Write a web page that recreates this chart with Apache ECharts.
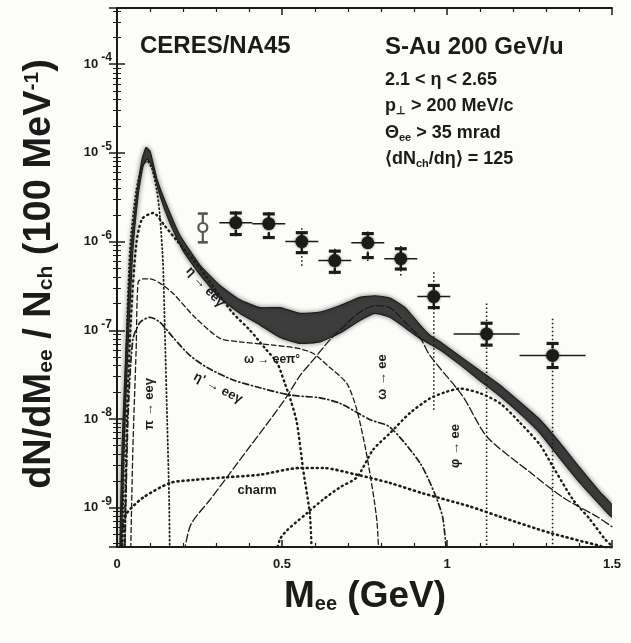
<!DOCTYPE html>
<html>
<head>
<meta charset="utf-8">
<script src="https://cdn.jsdelivr.net/npm/echarts@6/dist/echarts.min.js"></script>
<style>
  html, body { margin: 0; padding: 0; background: #fcfcf8; }
  #chart { width: 631px; height: 643px; }
</style>
</head>
<body>
<div id="chart"></div>
<script>
// CERES/NA45 dielectron invariant-mass spectrum, S-Au at 200 GeV/u
// Yields are dN/dMee / Nch per 100 MeV, masses in GeV.

const massTicks = [0, 0.5, 1, 1.5];
const yieldRange = [3.6e-10, 4.3e-4];

// measured points
const pointMass      = [0.36, 0.46, 0.56, 0.66, 0.76, 0.86, 0.96, 1.12, 1.32];
const pointHalfWidth = [0.05, 0.05, 0.05, 0.05, 0.05, 0.05, 0.05, 0.10, 0.10];
const pointYield     = [1.63e-6, 1.59e-6, 1.0e-6, 6.1e-7, 9.7e-7, 6.4e-7, 2.4e-7, 9.1e-8, 5.2e-8];
const statHigh       = [2.2e-6, 2.15e-6, 1.41e-6, 8.3e-7, 1.3e-6, 8.9e-7, 4.5e-7, 2.0e-7, 1.35e-7];
const statLow        = [1.15e-6, 1.05e-6, 5.0e-7, 4.2e-7, 6.0e-7, 4.0e-7, 1.26e-8, 1e-10, 1e-10];
const sysHigh        = [2.1e-6, 2.05e-6, 1.26e-6, 7.8e-7, 1.23e-6, 8.3e-7, 3.2e-7, 1.2e-7, 7.1e-8];
const sysLow         = [1.2e-6, 1.11e-6, 7.5e-7, 4.5e-7, 6.6e-7, 4.9e-7, 1.8e-7, 6.8e-8, 3.8e-8];

// lowest-mass point (open marker)
const lowPointMass  = [0.26];
const lowPointYield = [1.44e-6];
const lowPointHigh  = [2.07e-6];
const lowPointLow   = [9.8e-7];

// total hadronic cocktail: upper and lower edge of the systematic band
const cocktailUpper = [
  [0.006, 1e-10], [0.015, 4.5e-9], [0.027, 6.0e-8], [0.042, 7.9e-7], [0.061, 3.7e-6],
  [0.076, 8.5e-6], [0.088, 1.15e-5], [0.100, 1.05e-5], [0.121, 5.1e-6], [0.152, 2.5e-6],
  [0.191, 1.17e-6], [0.252, 5.4e-7], [0.312, 3.2e-7], [0.373, 2.2e-7], [0.433, 1.8e-7],
  [0.494, 1.8e-7], [0.555, 1.55e-7], [0.615, 1.6e-7], [0.676, 1.9e-7], [0.736, 2.35e-7],
  [0.782, 2.45e-7], [0.827, 2.3e-7], [0.873, 1.8e-7], [0.918, 1.15e-7], [0.948, 8.8e-8],
  [0.979, 7.4e-8], [1.039, 5.1e-8], [1.100, 3.5e-8], [1.161, 2.4e-8], [1.221, 1.55e-8],
  [1.282, 9.8e-9], [1.342, 5.4e-9], [1.403, 2.8e-9], [1.464, 1.5e-9], [1.500, 1.07e-9]
];
const cocktailLower = [
  [0.009, 1e-10], [0.020, 3.5e-9], [0.032, 5.0e-8], [0.047, 7.0e-7], [0.064, 3.3e-6],
  [0.079, 7.1e-6], [0.091, 8.5e-6], [0.106, 7.1e-6], [0.130, 3.3e-6], [0.161, 1.6e-6],
  [0.200, 7.9e-7], [0.252, 4.2e-7], [0.312, 2.3e-7], [0.373, 1.55e-7], [0.433, 1.15e-7],
  [0.494, 8.3e-8], [0.555, 7.1e-8], [0.615, 7.4e-8], [0.676, 9.3e-8], [0.736, 1.29e-7],
  [0.782, 1.55e-7], [0.827, 1.4e-7], [0.873, 1.07e-7], [0.918, 8.1e-8], [0.979, 6.0e-8],
  [1.039, 4.1e-8], [1.100, 2.7e-8], [1.161, 1.8e-8], [1.221, 1.15e-8], [1.282, 6.9e-9],
  [1.342, 3.6e-9], [1.403, 1.9e-9], [1.464, 1.07e-9], [1.500, 7.8e-10]
];

// individual cocktail sources
const piDalitz = [
  [0.015, 1e-10], [0.024, 1.6e-8], [0.039, 7.9e-7], [0.058, 3.7e-6], [0.076, 7.1e-6],
  [0.091, 8.1e-6], [0.106, 6.6e-6], [0.121, 3.7e-6], [0.130, 1.95e-6], [0.139, 6.2e-7],
  [0.145, 1.0e-7], [0.152, 9.8e-9], [0.158, 1.2e-9], [0.161, 1e-10]
];
const etaDalitz = [
  [0.021, 1e-10], [0.030, 9.8e-9], [0.042, 1.3e-7], [0.058, 9.1e-7], [0.076, 1.8e-6],
  [0.110, 2.1e-6], [0.145, 1.5e-6], [0.182, 1.02e-6], [0.252, 5.0e-7], [0.303, 2.7e-7],
  [0.352, 1.55e-7], [0.403, 1.0e-7], [0.448, 6.3e-8], [0.485, 4.3e-8], [0.509, 2.5e-8],
  [0.527, 1.6e-8], [0.545, 9.1e-9], [0.564, 2.7e-9], [0.585, 7.9e-10], [0.594, 1e-10]
];
const omegaDalitz = [
  [0.039, 1e-10], [0.048, 4.5e-9], [0.058, 6.0e-8], [0.064, 3.5e-7], [0.079, 3.8e-7],
  [0.100, 3.8e-7], [0.130, 3.4e-7], [0.170, 2.6e-7], [0.236, 1.4e-7], [0.312, 8.1e-8],
  [0.373, 7.4e-8], [0.473, 6.8e-8], [0.545, 6.3e-8], [0.594, 5.5e-8], [0.645, 3.8e-8],
  [0.697, 2.5e-8], [0.727, 1.26e-8], [0.758, 3.7e-9], [0.788, 6.8e-10], [0.797, 1e-10]
];
const etaPrimeDalitz = [
  [0.021, 1e-10], [0.033, 9.8e-9], [0.048, 7.8e-8], [0.070, 1.23e-7], [0.100, 1.4e-7],
  [0.130, 1.23e-7], [0.170, 8.3e-8], [0.221, 5.2e-8], [0.273, 3.8e-8], [0.352, 2.75e-8],
  [0.433, 2.25e-8], [0.524, 1.86e-8], [0.615, 1.73e-8], [0.676, 1.5e-8], [0.767, 9.8e-9],
  [0.827, 8.1e-9], [0.918, 3.2e-9], [0.964, 1.4e-9], [0.988, 7.4e-10], [1.009, 1e-10]
];
const omegaDirect = [
  [0.182, 1e-10], [0.221, 6.1e-10], [0.282, 1.23e-9], [0.333, 2.2e-9], [0.403, 4.9e-9],
  [0.464, 9.8e-9], [0.515, 1.8e-8], [0.555, 3.1e-8], [0.594, 4.6e-8], [0.645, 7.8e-8],
  [0.697, 1.2e-7], [0.736, 1.6e-7], [0.782, 1.9e-7], [0.827, 1.8e-7], [0.873, 1.23e-7],
  [0.918, 8.3e-8], [0.948, 5.2e-8], [1.048, 1.8e-8], [1.121, 6.3e-9], [1.252, 2.5e-9],
  [1.352, 1.3e-9], [1.455, 7.9e-10], [1.500, 6.1e-10]
];
const phiDirect = [
  [0.464, 1e-10], [0.494, 4.4e-10], [0.576, 8.7e-10], [0.624, 1.23e-9], [0.676, 1.7e-9],
  [0.727, 2.2e-9], [0.776, 4.5e-9], [0.827, 6.9e-9], [0.888, 1.17e-8], [0.948, 1.7e-8],
  [0.994, 2.0e-8], [1.039, 2.2e-8], [1.100, 1.95e-8], [1.161, 1.5e-8], [1.221, 9.1e-9],
  [1.282, 5.1e-9], [1.321, 2.9e-9], [1.382, 1.23e-9], [1.433, 7.4e-10], [1.479, 4.4e-10],
  [1.500, 3.7e-10]
];
const charm = [
  [0.009, 1e-10], [0.018, 6.4e-10], [0.030, 8.7e-10], [0.079, 1.3e-9], [0.161, 1.9e-9],
  [0.230, 2.05e-9], [0.333, 2.2e-9], [0.433, 2.35e-9], [0.555, 2.8e-9], [0.624, 2.8e-9],
  [0.727, 2.35e-9], [0.827, 1.9e-9], [0.927, 1.45e-9], [1.070, 1.03e-9], [1.161, 7.9e-10],
  [1.312, 5.2e-10], [1.464, 3.7e-10], [1.500, 3.4e-10]
];

const FONT = '"Liberation Sans", Arial, Helvetica, sans-serif';
const INK = '#1b1b1b';

const chart = echarts.init(document.getElementById('chart'), null, { renderer: 'canvas' });

function curve(name, data, width, dash) {
  return {
    name, type: 'line', data, showSymbol: false, smooth: 0.25, clip: true, z: 3,
    lineStyle: { color: INK, width, type: dash, cap: 'round' },
    silent: true
  };
}

// systematic band of the summed cocktail
const bandSeries = {
  type: 'custom', clip: true, z: 2, silent: true,
  data: [[0.5, 1e-6]],
  renderItem: (params, api) => {
    const pts = cocktailUpper.map(p => api.coord(p))
      .concat(cocktailLower.slice().reverse().map(p => api.coord(p)));
    return {
      type: 'polygon',
      shape: { points: pts, smooth: 0.15 },
      style: { fill: '#3d3d3d', stroke: '#1e1e1e', lineWidth: 1.2,
               shadowBlur: 5, shadowColor: 'rgba(0,0,0,0.45)' }
    };
  }
};

// measured points with statistical (dotted) and systematic (bracket) errors
const pointSeries = {
  type: 'custom', clip: true, z: 5, silent: true,
  data: pointMass.map((m, i) => [m, pointYield[i], pointHalfWidth[i], statHigh[i], statLow[i], sysHigh[i], sysLow[i]]),
  renderItem: (params, api) => {
    const m = api.value(0), y = api.value(1), hw = api.value(2);
    const c = api.coord([m, y]);
    const l = api.coord([m - hw, y]), r = api.coord([m + hw, y]);
    const sh = api.coord([m, api.value(3)]), sl = api.coord([m, api.value(4)]);
    const yh = api.coord([m, api.value(5)]), yl = api.coord([m, api.value(6)]);
    const capW = 6;
    return {
      type: 'group',
      children: [
        { type: 'line', shape: { x1: c[0], y1: sh[1], x2: c[0], y2: sl[1] },
          style: { stroke: INK, lineWidth: 1.6, lineDash: [1.5, 2.5] } },
        { type: 'line', shape: { x1: l[0], y1: c[1], x2: r[0], y2: c[1] },
          style: { stroke: INK, lineWidth: 1.5 } },
        { type: 'line', shape: { x1: c[0] - capW, y1: yh[1], x2: c[0] + capW, y2: yh[1] },
          style: { stroke: INK, lineWidth: 3.2 } },
        { type: 'line', shape: { x1: c[0], y1: yh[1], x2: c[0], y2: yh[1] + 5 },
          style: { stroke: INK, lineWidth: 2.5 } },
        { type: 'line', shape: { x1: c[0] - capW, y1: yl[1], x2: c[0] + capW, y2: yl[1] },
          style: { stroke: INK, lineWidth: 3.2 } },
        { type: 'line', shape: { x1: c[0], y1: yl[1], x2: c[0], y2: yl[1] - 5 },
          style: { stroke: INK, lineWidth: 2.5 } },
        { type: 'circle', shape: { cx: c[0], cy: c[1], r: 6.5 },
          style: { fill: INK, shadowBlur: 3, shadowColor: 'rgba(0,0,0,0.5)' } }
      ]
    };
  }
};

const lowPointSeries = {
  type: 'custom', clip: true, z: 5, silent: true,
  data: lowPointMass.map((m, i) => [m, lowPointYield[i], lowPointHigh[i], lowPointLow[i]]),
  renderItem: (params, api) => {
    const m = api.value(0);
    const c = api.coord([m, api.value(1)]);
    const h = api.coord([m, api.value(2)]), lo = api.coord([m, api.value(3)]);
    const grey = '#555';
    return {
      type: 'group',
      children: [
        { type: 'line', shape: { x1: c[0], y1: h[1], x2: c[0], y2: c[1] - 5 }, style: { stroke: grey, lineWidth: 2.2 } },
        { type: 'line', shape: { x1: c[0], y1: c[1] + 5, x2: c[0], y2: lo[1] }, style: { stroke: grey, lineWidth: 2.2 } },
        { type: 'line', shape: { x1: c[0] - 5, y1: h[1], x2: c[0] + 5, y2: h[1] }, style: { stroke: grey, lineWidth: 2.6 } },
        { type: 'line', shape: { x1: c[0] - 5, y1: lo[1], x2: c[0] + 5, y2: lo[1] }, style: { stroke: grey, lineWidth: 2.6 } },
        { type: 'circle', shape: { cx: c[0], cy: c[1], r: 4.5 }, style: { fill: '#fcfcf8', stroke: grey, lineWidth: 2.2 } }
      ]
    };
  }
};

function supLabel(v) {
  const lg = Math.log10(v);
  const e = Math.round(lg);
  if (Math.abs(lg - e) > 1e-6) return '';
  return '{b|10}{e|' + e + '}';
}

const grid = { left: 117, top: 8, right: 19, bottom: 96 };

const option = {
  backgroundColor: '#fcfcf8',
  animation: false,
  grid,
  xAxis: [
    {
      type: 'value', min: massTicks[0], max: massTicks[massTicks.length - 1], interval: 0.5,
      axisLine: { lineStyle: { color: INK, width: 2 } },
      axisTick: { inside: true, length: 7, lineStyle: { color: INK, width: 1.5 } },
      minorTick: { show: true, splitNumber: 5, length: 4, lineStyle: { color: INK, width: 1.2 } },
      splitLine: { show: false },
      axisLabel: { color: INK, fontFamily: FONT, fontWeight: 'bold', fontSize: 13, margin: 11,
                   formatter: v => (massTicks.indexOf(v) >= 0 ? String(v) : '') }
    },
    {
      type: 'value', position: 'top', min: 0, max: 1.5, interval: 0.5,
      axisLine: { lineStyle: { color: INK, width: 2 } },
      axisTick: { inside: true, length: 7, lineStyle: { color: INK, width: 1.5 } },
      minorTick: { show: true, splitNumber: 5, length: 4, lineStyle: { color: INK, width: 1.2 } },
      splitLine: { show: false }, axisLabel: { show: false }
    }
  ],
  yAxis: [
    {
      type: 'log', logBase: 10, min: yieldRange[0], max: yieldRange[1],
      axisLine: { lineStyle: { color: INK, width: 2 } },
      axisTick: { inside: true, length: 8, lineStyle: { color: INK, width: 1.5 } },
      minorTick: { show: true, splitNumber: 9, length: 4, lineStyle: { color: INK, width: 1 } },
      splitLine: { show: false },
      axisLabel: {
        formatter: supLabel, margin: 5, color: INK,
        rich: {
          b: { fontFamily: FONT, fontWeight: 'bold', fontSize: 13, color: INK },
          e: { fontFamily: FONT, fontWeight: 'bold', fontSize: 12, color: INK, padding: [0, 0, 12, 3] }
        }
      }
    },
    {
      type: 'log', logBase: 10, min: yieldRange[0], max: yieldRange[1], position: 'right',
      axisLine: { lineStyle: { color: INK, width: 2 } },
      axisTick: { inside: true, length: 8, lineStyle: { color: INK, width: 1.5 } },
      minorTick: { show: true, splitNumber: 9, length: 4, lineStyle: { color: INK, width: 1 } },
      splitLine: { show: false }, axisLabel: { show: false }
    }
  ],
  series: [
    bandSeries,
    curve('π0 → eeγ', piDalitz, 1.8, [1, 3]),
    curve('η → eeγ', etaDalitz, 2.4, [1, 4]),
    curve('ω → eeπ0', omegaDalitz, 1.3, [5, 3]),
    curve("η' → eeγ", etaPrimeDalitz, 1.7, [6, 3, 1, 3]),
    curve('ω → ee', omegaDirect, 1.3, [8, 3]),
    curve('φ → ee', phiDirect, 2.4, [1, 4]),
    curve('charm', charm, 2.6, [1, 4]),
    pointSeries,
    lowPointSeries
  ],
  graphic: [
    // axis titles
    {
      type: 'text', x: 40, y: 274, rotation: Math.PI / 2,
      style: {
        text: '{m|dN/dM}{s|ee}{m| / N}{s|ch}{m| (100 MeV}{p|-1}{m|)}',
        align: 'center', verticalAlign: 'middle',
        rich: {
          m: { fontFamily: FONT, fontWeight: 'bold', fontSize: 38, fill: INK },
          s: { fontFamily: FONT, fontWeight: 'bold', fontSize: 21, fill: INK, padding: [13, 0, 0, 0] },
          p: { fontFamily: FONT, fontWeight: 'bold', fontSize: 21, fill: INK, padding: [0, 0, 16, 0] }
        }
      }
    },
    {
      type: 'text', x: 365, y: 597,
      style: {
        text: '{m|M}{s|ee}{m| (GeV)}',
        align: 'center', verticalAlign: 'middle',
        rich: {
          m: { fontFamily: FONT, fontWeight: 'bold', fontSize: 37, fill: INK },
          s: { fontFamily: FONT, fontWeight: 'bold', fontSize: 20, fill: INK, padding: [14, 0, 0, 0] }
        }
      }
    },
    // headers
    { type: 'text', x: 140, y: 46, style: { text: 'CERES/NA45', fontFamily: FONT, fontWeight: 'bold', fontSize: 24, fill: INK, verticalAlign: 'middle' } },
    { type: 'text', x: 385, y: 47, style: { text: 'S-Au 200 GeV/u', fontFamily: FONT, fontWeight: 'bold', fontSize: 24, fill: INK, verticalAlign: 'middle' } },
    { type: 'text', x: 385, y: 80, style: { text: '2.1 < η < 2.65', fontFamily: FONT, fontWeight: 'bold', fontSize: 18, fill: INK, verticalAlign: 'middle' } },
    {
      type: 'text', x: 385, y: 106,
      style: {
        text: '{t|p}{s|⊥}{t| > 200 MeV/c}', verticalAlign: 'middle',
        rich: {
          t: { fontFamily: FONT, fontWeight: 'bold', fontSize: 18, fill: INK },
          s: { fontFamily: FONT, fontWeight: 'bold', fontSize: 11, fill: INK, padding: [9, 0, 0, 0] }
        }
      }
    },
    {
      type: 'text', x: 385, y: 133,
      style: {
        text: '{t|Θ}{s|ee}{t| > 35 mrad}', verticalAlign: 'middle',
        rich: {
          t: { fontFamily: FONT, fontWeight: 'bold', fontSize: 18, fill: INK },
          s: { fontFamily: FONT, fontWeight: 'bold', fontSize: 11, fill: INK, padding: [9, 0, 0, 0] }
        }
      }
    },
    {
      type: 'text', x: 385, y: 159,
      style: {
        text: '{t|⟨dN}{s|ch}{t|/dη⟩ = 125}', verticalAlign: 'middle',
        rich: {
          t: { fontFamily: FONT, fontWeight: 'bold', fontSize: 18, fill: INK },
          s: { fontFamily: FONT, fontWeight: 'bold', fontSize: 11, fill: INK, padding: [9, 0, 0, 0] }
        }
      }
    },
    // source labels
    { type: 'text', x: 149, y: 404, rotation: Math.PI / 2,
      style: { text: 'π → eeγ', fontFamily: FONT, fontWeight: 'bold', fontSize: 13, fill: INK, align: 'center', verticalAlign: 'middle' } },
    { type: 'text', x: 205, y: 287, rotation: -0.82,
      style: { text: 'η → eeγ', fontFamily: FONT, fontWeight: 'bold', fontSize: 13, fill: INK, align: 'center', verticalAlign: 'middle' } },
    { type: 'text', x: 272, y: 360,
      style: { text: 'ω → eeπ°', fontFamily: FONT, fontWeight: 'bold', fontSize: 12, fill: INK, align: 'center', verticalAlign: 'middle' } },
    { type: 'text', x: 218, y: 388, rotation: -0.48,
      style: { text: "η' → eeγ", fontFamily: FONT, fontWeight: 'bold', fontSize: 13, fill: INK, align: 'center', verticalAlign: 'middle' } },
    { type: 'text', x: 382, y: 377, rotation: Math.PI / 2,
      style: { text: 'ω → ee', fontFamily: FONT, fontWeight: 'bold', fontSize: 13, fill: INK, align: 'center', verticalAlign: 'middle' } },
    { type: 'text', x: 455, y: 446, rotation: Math.PI / 2,
      style: { text: 'φ → ee', fontFamily: FONT, fontWeight: 'bold', fontSize: 13, fill: INK, align: 'center', verticalAlign: 'middle' } },
    { type: 'text', x: 257, y: 490,
      style: { text: 'charm', fontFamily: FONT, fontWeight: 'bold', fontSize: 13, fill: INK, align: 'center', verticalAlign: 'middle' } }
  ]
};

chart.setOption(option);
</script>
</body>
</html>
